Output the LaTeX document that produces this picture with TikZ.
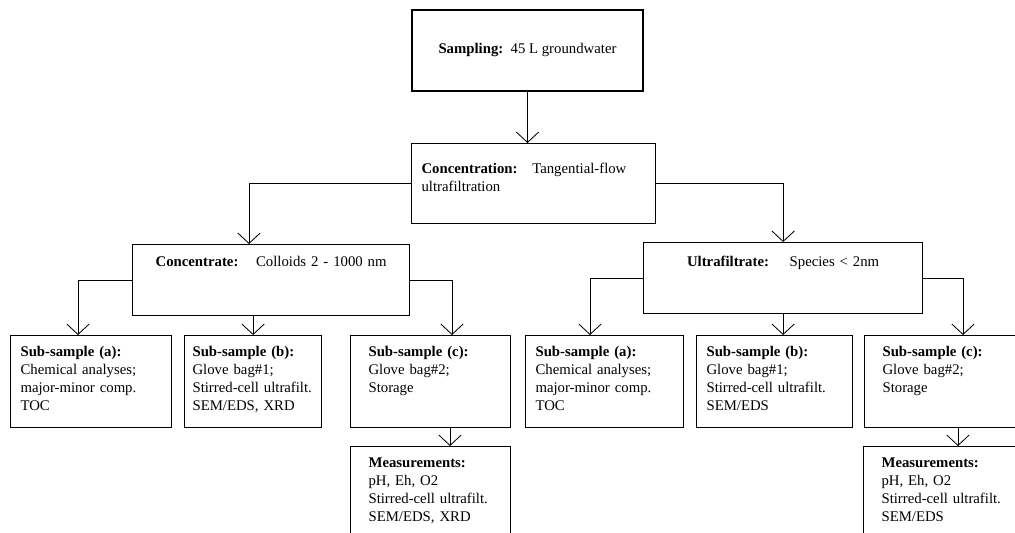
\documentclass[tikz,border=0pt]{standalone}
\usepackage{fontspec}
\setmainfont{Liberation Serif}
\usetikzlibrary{arrows.meta, positioning}

\begin{document}
\begin{tikzpicture}[
    x=0.025cm, y=-0.025cm,
    >={Straight Barb[length=2.6mm, width=5.6mm]},
    font=\fontsize{10.5}{12.8}\selectfont,
    box/.style     ={draw, thick, rectangle, inner xsep=0.25cm, inner ysep=0.25cm,
                     anchor=north west, align=left},
    stagebox/.style={box, text height=0.3cm, text depth=0.975cm, align=center},
    subbox/.style  ={box, text height=0.275cm, text depth=1.525cm},
    widebox/.style ={subbox, inner xsep=0.45cm, text width=3.1cm},
    measbox/.style ={widebox, text depth=2.2cm},
    flow/.style    ={->, semithick}
]
\useasboundingbox (0,0) rectangle (1015,533);
\clip (0,0) rectangle (1015,533);

% Sampling and concentration step
\node[draw, thick, minimum width=5.775cm, minimum height=2.025cm] (samp) at (527.5,50.5)
    {\textbf{Sampling:}\ \ 45 L groundwater};
\node[box, text width=5.6cm, text height=0.5cm, text depth=1.0cm] (conc) at (411,143)
    {\textbf{Concentration:}\hspace{1em}Tangential-flow\\ultrafiltration};

% The two fractions
\node[stagebox, text width=6.425cm] (ctr) at (132,244)
    {\textbf{Concentrate:}\hspace{1.2em}Colloids 2 - 1000 nm};
\node[stagebox, text width=6.475cm, text height=0.35cm, text depth=0.925cm] (ufl) at (643,242)
    {\textbf{Ultrafiltrate:}\hspace{1.4em}Species < 2nm};

% Sub-samples of the concentrate
\node[subbox, text width=3.525cm] (La) at (10,335)
    {\textbf{Sub-sample (a):}\\Chemical analyses;\\major-minor comp.\\TOC};
\node[subbox, inner xsep=0.2cm, text width=3.025cm] (Lb) at (184,335)
    {\textbf{Sub-sample (b):}\\Glove bag\#1;\\Stirred-cell ultrafilt.\\SEM/EDS, XRD};
\node[widebox] (Lc) at (350,335)
    {\textbf{Sub-sample (c):}\\Glove bag\#2;\\Storage};
\node[measbox] (Lm) at (350,446)
    {\textbf{Measurements:}\\pH, Eh, O2\\Stirred-cell ultrafilt.\\SEM/EDS, XRD};

% Sub-samples of the ultrafiltrate
\node[subbox, text width=3.45cm] (Ra) at (525,335)
    {\textbf{Sub-sample (a):}\\Chemical analyses;\\major-minor comp.\\TOC};
\node[subbox, text width=3.4cm] (Rb) at (696,335)
    {\textbf{Sub-sample (b):}\\Glove bag\#1;\\Stirred-cell ultrafilt.\\SEM/EDS};
\node[widebox, text width=3.3cm] (Rc) at (864,335)
    {\textbf{Sub-sample (c):}\\Glove bag\#2;\\Storage};
\node[measbox, text width=3.3cm] (Rm) at (863,446)
    {\textbf{Measurements:}\\pH, Eh, O2\\Stirred-cell ultrafilt.\\SEM/EDS};

% --- Arrows ---
\draw[flow] (samp.south) -- (samp.south |- conc.north);
\draw[flow] (conc.west) -| (249,0 |- ctr.north);
\draw[flow] (conc.east) -| (ufl.north);

\draw[flow] (ctr.west) -| (78,0 |- La.north);
\draw[flow] (Lb.north |- ctr.south) -- (Lb.north);
\draw[flow] (ctr.east) -| (452,0 |- Lc.north);
\draw[flow] (450,0 |- Lc.south) -- (450,0 |- Lm.north);

\draw[flow] (ufl.west) -| (590,0 |- Ra.north);
\draw[flow] (ufl.south) -- (ufl.south |- Rb.north);
\draw[flow] (ufl.east) -| (963,0 |- Rc.north);
\draw[flow] (958,0 |- Rc.south) -- (958,0 |- Rm.north);

\end{tikzpicture}
\end{document}
